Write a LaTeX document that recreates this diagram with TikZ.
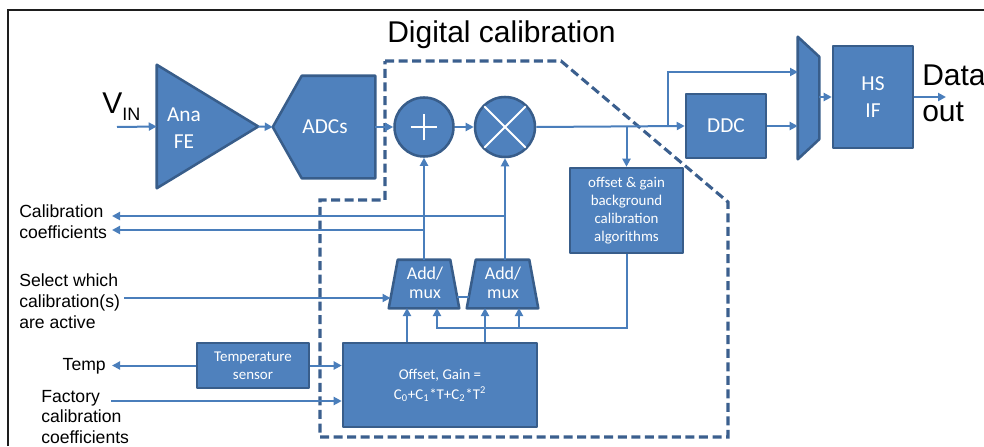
\documentclass[tikz,border=0pt]{standalone}
\usepackage{fontspec}
\setmainfont{Liberation Sans}
\newfontfamily\calibri{Carlito}
\usetikzlibrary{arrows.meta}
\definecolor{bfill}{HTML}{4F81BD}
\definecolor{bdraw}{HTML}{385D8A}
\definecolor{bline}{HTML}{4A7EBB}
\definecolor{bdash}{HTML}{3B5F8E}
\definecolor{frm}{HTML}{1E1E1E}
\begin{document}
\begin{tikzpicture}[x=0.75pt,y=-0.75pt,
  blk/.style={fill=bfill,draw=bdraw,line width=1.9pt,line join=round},
  box/.style={blk,rectangle,inner sep=0pt,text=white,align=center},
  ghost/.style={rectangle,inner sep=0pt,draw=none},
  intext/.style={text=white,align=center,inner sep=0pt},
  bigtxt/.style={font=\calibri\fontsize{16}{20}\selectfont},
  muxtxt/.style={font=\calibri\fontsize{13.5}{14.5}\selectfont},
  smalltxt/.style={font=\calibri\fontsize{11.2}{13.5}\selectfont},
  arr/.style={draw=bline,line width=1.5pt,-{Triangle[length=6pt,width=6pt]}},
  conn/.style={draw=bline,line width=1.5pt},
  lab/.style={font=\fontsize{13.2}{15.75}\selectfont,align=left,inner sep=0pt,text=black},
  huge/.style={font=\fontsize{22.5}{27}\selectfont,inner sep=0pt,text=black},
  dashbox/.style={draw=bdash,line width=2.3pt,dash pattern=on 6.75pt off 3.4pt}]
\useasboundingbox (0,0) rectangle (984,446);

% frame
\draw[line width=1.6pt,frm] (8,446) -- (8,10) -- (984,10);

% title
\node[huge,anchor=base] (title) at (501.5,42) {Digital calibration};

% dashed region
\draw[dashbox] (385,61) -- (561,61) -- (728,202) -- (728,437) -- (320,437) -- (320,200) -- (385,200) -- cycle;

% V_IN
\node[huge,anchor=base west] (vin) at (102,113) {V\raisebox{-5.25pt}{\fontsize{13.5}{16}\selectfont IN}};
\coordinate (vinE) at (117,127);

% Ana FE
\node[ghost,minimum width=101*0.75pt,minimum height=123*0.75pt] (fe) at (207.5,126.5) {};
\draw[blk] (fe.north west) -- (fe.east) -- (fe.south west) -- cycle;
\node[intext,bigtxt] (feT) at (184,128) {Ana\\FE};

% ADCs
\node[ghost,minimum width=102*0.75pt,minimum height=102*0.75pt] (adc) at (324,127) {};
\draw[blk] (adc.west) -- ([xshift=21.75pt]adc.north west) -- (adc.north east) -- (adc.south east) -- ([xshift=21.75pt]adc.south west) -- cycle;
\node[intext,bigtxt] (adcT) at (325,127) {ADCs};

% adder and multiplier
\node[blk,circle,minimum size=59*0.75pt,inner sep=0pt] (plus) at (424,127) {};
\draw[white,line width=1.5pt] ([xshift=-10pt]plus.center) -- ([xshift=10pt]plus.center)
  ([yshift=-10pt]plus.center) -- ([yshift=10pt]plus.center);
\node[blk,circle,minimum size=60*0.75pt,inner sep=0pt] (times) at (505,127) {};
\draw[white,line width=1.5pt] ([shift={(-15.5pt,-15.5pt)}]times.center) -- ([shift={(15.5pt,15.5pt)}]times.center)
  ([shift={(-15.5pt,15.5pt)}]times.center) -- ([shift={(15.5pt,-15.5pt)}]times.center);

% DDC, mux, HS IF
\node[box,bigtxt,minimum width=80*0.75pt,minimum height=64*0.75pt] (ddc) at (726,126) {DDC};
\node[ghost,minimum width=21*0.75pt,minimum height=122*0.75pt] (mx) at (808.5,98) {};
\draw[blk] (mx.north west) -- ([yshift=-15pt]mx.north east) -- ([yshift=15pt]mx.south east) -- (mx.south west) -- cycle;
\node[box,bigtxt,minimum width=80*0.75pt,minimum height=102*0.75pt] (hs) at (873,97) {HS\\IF};

% offset & gain background
\node[box,smalltxt,minimum width=113*0.75pt,minimum height=85*0.75pt] (og) at (626.5,210.5) {offset \& gain\\background\\calibration\\algorithms};

% Add/mux blocks
\node[ghost,minimum width=70*0.75pt,minimum height=48*0.75pt] (m1) at (424,284) {};
\draw[blk] (m1.south west) -- ([xshift=6.75pt]m1.north west) -- ([xshift=-6.75pt]m1.north east) -- (m1.south east) -- cycle;
\node[intext,muxtxt] (m1T) at (425,283) {Add/\\mux};
\node[ghost,minimum width=71*0.75pt,minimum height=48*0.75pt] (m2) at (502.5,284) {};
\draw[blk] (m2.south west) -- ([xshift=6.75pt]m2.north west) -- ([xshift=-6.75pt]m2.north east) -- (m2.south east) -- cycle;
\node[intext,muxtxt] (m2T) at (503,283) {Add/\\mux};

% temperature sensor and offset box
\node[box,smalltxt,minimum width=112*0.75pt,minimum height=45*0.75pt] (ts) at (253,365.5) {Temperature\\sensor};
\node[box,font=\calibri\fontsize{11.2}{15}\selectfont,minimum width=194*0.75pt,minimum height=84*0.75pt] (off) at (440,385)
  {Offset, Gain =\\C\textsubscript{0}+C\textsubscript{1}*T+C\textsubscript{2}*T\textsuperscript{2}};

% labels
\node[lab,anchor=west] (calL) at (19,222) {Calibration\\coefficients};
\node[lab,anchor=west] (selL) at (19,301.5) {Select which\\calibration(s)\\are active};
\node[lab,anchor=east] (tempL) at (106,366) {Temp};
\node[lab,anchor=west,font=\fontsize{13.2}{15.4}\selectfont] (facL) at (41,417) {Factory\\calibration\\coefficients};
\node[huge,anchor=west,align=left,font=\fontsize{22.5}{27}\selectfont] (outL) at (922,93) {Data\\out};

% coordinates for free ends and junctions
\coordinate (cc1) at (112,216);
\coordinate (cc2) at (112,230);
\coordinate (selS) at (124,298);
\coordinate (m1in) at (390.5,298);
\coordinate (tmpE) at (112,365.5);
\coordinate (facS) at (111,401);
\coordinate (brA) at (668,127);
\coordinate (mxin1) at (798,72);
\coordinate (dout) at (946,97);
\coordinate (a1) at (407,308);
\coordinate (a2) at (485,308);
\coordinate (a3) at (437,308);
\coordinate (a4) at (519,308);
\coordinate (jn) at (600,328);
\coordinate (lk1) at (456.9,297);
\coordinate (lk2) at (469.1,297);

% connectors
\draw[arr] (vinE) -- (fe.west);
\draw[arr] (fe.east) -- (adc.west);
\draw[arr] (adc.east) -- (plus.west);
\draw[arr] (plus.east) -- (times.west);
\draw[arr] (times.east) -- (ddc.west);
\draw[arr] (times.east -| og.north) -- (og.north);
\draw[arr] (brA) |- (mxin1);
\draw[arr] (ddc.east) -- (ddc.east -| mx.west);
\draw[arr] (mx.east |- hs.west) -- (hs.west);
\draw[arr] (hs.east) -- (dout);

\draw[arr] (plus.south |- m1.north) -- (plus.south);
\draw[arr] (times.south |- m2.north) -- (times.south);
\draw[arr] (times.south |- cc1) -- (cc1);
\draw[arr] (plus.south |- cc2) -- (cc2);
\draw[arr] (selS) -- (m1in);
\draw[conn] (lk1) -- (lk2);

\draw[arr] (a1 |- off.north) -- (a1);
\draw[arr] (a2 |- off.north) -- (a2);
\draw[arr] (og.south) -- (og.south |- jn) -- (a3 |- jn) -- (a3);
\draw[arr] (a4 |- jn) -- (a4);

\draw[arr] (ts.west) -- (tmpE);
\draw[arr] (ts.east) -- (ts.east -| off.west);
\draw[arr] (facS) -- (facS -| off.west);
\end{tikzpicture}
\end{document}
